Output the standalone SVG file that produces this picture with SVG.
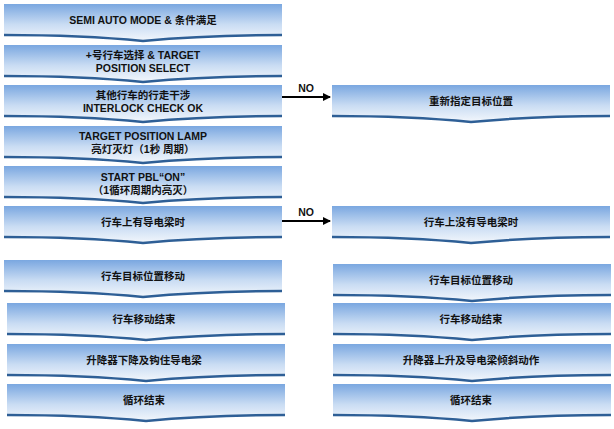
<svg xmlns="http://www.w3.org/2000/svg" width="614" height="429" viewBox="0 0 614 429">
<style>
.b{fill:url(#g)}
.e{fill:none;stroke:#2e5f96;stroke-width:2.5}
text{font-family:"Liberation Sans","Noto Sans CJK SC",sans-serif;font-size:10.5px;font-weight:bold;fill:#111;text-anchor:middle}
.c{stroke:#000;stroke-width:2;fill:none}
</style>
<defs>
<linearGradient id="g" x1="0" y1="0" x2="0" y2="1"><stop offset="0" stop-color="#7aa7e0"/><stop offset="0.55" stop-color="#c9dcf3"/><stop offset="1" stop-color="#f3f7fc"/></linearGradient>
<marker id="a" markerWidth="8" markerHeight="8" refX="7" refY="4" orient="auto" markerUnits="userSpaceOnUse"><path d="M0,0 L8,4 L0,8z" fill="#000"/></marker>
<g id="box"><path class="b" d="M0,0 H278 V31 Q200,31 139,37 Q78,31 0,31Z"/><path class="e" d="M0,31 Q78,31 139,37 Q200,31 278,31"/></g>
</defs>
<rect width="614" height="429" fill="#fff"/>
<g id="n1"><use href="#box" x="4" y="4"/><text x="143" y="24">SEMI AUTO MODE &amp; 条件满足</text></g>
<g id="n2"><use href="#box" x="4" y="45"/><text x="143" y="59">+号行车选择 &amp; TARGET</text><text x="143" y="72">POSITION SELECT</text></g>
<g id="n3"><use href="#box" x="4" y="85"/><text x="143" y="99">其他行车的行走干涉</text><text x="143" y="112">INTERLOCK CHECK OK</text></g>
<g id="n4"><use href="#box" x="4" y="126"/><text x="143" y="140">TARGET POSITION LAMP</text><text x="143" y="153">亮灯灭灯（1秒 周期）</text></g>
<g id="n5"><use href="#box" x="4" y="166"/><text x="143" y="181">START PBL“ON”</text><text x="143" y="194">（1循环周期内亮灭）</text></g>
<g id="n6"><use href="#box" x="4" y="206"/><text x="143" y="226">行车上有导电梁时</text></g>
<g id="n7"><use href="#box" x="4" y="260"/><text x="143" y="280">行车目标位置移动</text></g>
<g id="n8"><use href="#box" x="7" y="303"/><text x="144" y="323">行车移动结束</text></g>
<g id="n9"><use href="#box" x="7" y="344"/><text x="144" y="364">升降器下降及钩住导电梁</text></g>
<g id="n10"><use href="#box" x="7" y="384"/><text x="144" y="404">循环结束</text></g>
<g id="r1"><use href="#box" x="332" y="85"/><text x="471" y="105">重新指定目标位置</text></g>
<g id="r2"><use href="#box" x="332" y="206"/><text x="471" y="226">行车上没有导电梁时</text></g>
<g id="r3"><use href="#box" x="333" y="264"/><text x="471" y="284">行车目标位置移动</text></g>
<g id="r4"><use href="#box" x="333" y="303"/><text x="471" y="323">行车移动结束</text></g>
<g id="r5"><use href="#box" x="333" y="344"/><text x="471" y="364">升降器上升及导电梁倾斜动作</text></g>
<g id="r6"><use href="#box" x="333" y="384"/><text x="471" y="404">循环结束</text></g>
<g id="connectors">
<line class="c" x1="282" y1="97" x2="330" y2="97" marker-end="url(#a)"/>
<text x="306" y="92">NO</text>
<line class="c" x1="282" y1="221" x2="330" y2="221" marker-end="url(#a)"/>
<text x="306" y="216">NO</text>
</g>
</svg>
